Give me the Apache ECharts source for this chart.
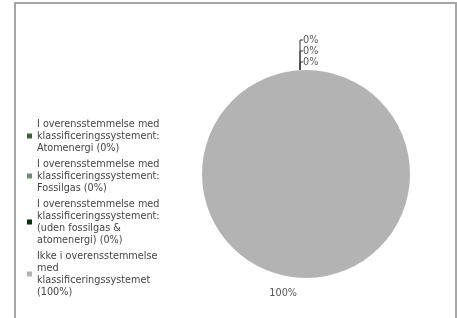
<!DOCTYPE html>
<html>
<head>
<meta charset="utf-8">
<script src="https://cdn.jsdelivr.net/npm/echarts@6/dist/echarts.min.js"></script>
<style>html,body{margin:0;padding:0;background:#fff}#c{width:457px;height:318px}</style>
</head>
<body>
<div id="c"></div>
<script>
const categories = [
  "I overensstemmelse med\nklassificeringssystement:\nAtomenergi",
  "I overensstemmelse med\nklassificeringssystement:\nFossilgas",
  "I overensstemmelse med\nklassificeringssystement:\n(uden fossilgas &\natomenergi)",
  "Ikke i overensstemmelse\nmed\nklassificeringssystemet"
];
const values = [0, 0, 0, 100];
const colors = ["#3f5f3f", "#6f8f6f", "#0b2d0b", "#b3b3b3"];

const chart = echarts.init(document.getElementById('c'), null, {renderer: 'canvas'});
const total = values.reduce((a, b) => a + b, 0);
const data = categories.map((n, i) => {
  const d = {name: n, value: values[i], itemStyle: {color: colors[i]}};
  if (values[i] > 0) d.labelLine = {show: false, length: 15, length2: 4};
  return d;
});
chart.setOption({
  animation: false,
  graphic: [{
    type: 'rect', shape: {x: 15, y: 3, width: 441, height: 330},
    style: {fill: 'none', stroke: '#a6a6a6', lineWidth: 2}
  }],
  legend: {
    orient: 'vertical', left: 22, top: 113,
    itemWidth: 5, itemHeight: 5, itemGap: 4, icon: 'rect',
    textStyle: {fontFamily: 'DejaVu Sans', fontSize: 9.7, color: '#444', lineHeight: 12},
    formatter: function (name) {
      const i = categories.indexOf(name);
      const lines = name.split('\n');
      const sep = lines[lines.length - 1].length > 20 ? '\n' : ' ';
      return name + sep + '(' + Math.round(values[i] / total * 100) + '%)';
    }
  },
  series: [{
    type: 'pie', center: [306, 174], radius: 104,
    startAngle: 90, clockwise: true,
    minShowLabelAngle: 0,
    avoidLabelOverlap: false,
    label: {
      formatter: '{d}%', fontFamily: 'DejaVu Sans', fontSize: 9.7, color: '#555'
    },
    labelLine: {length: 8, length2: 4, lineStyle: {color: '#333', width: 1}},
    labelLayout: function (params) {
      const i = params.dataIndex;
      if (values[i] !== 0 || !params.labelLinePoints) return {};
      const p0 = params.labelLinePoints[0];
      const lx = p0[0] - 6;
      const y = p0[1] - 8 - 11 * i;
      return {
        x: lx + 3, y: y, align: 'left', verticalAlign: 'middle',
        labelLinePoints: [[lx, p0[1]], [lx, y], [lx + 3, y]]
      };
    },
    emphasis: {disabled: true},
    data: data
  }]
});
</script>
</body>
</html>
